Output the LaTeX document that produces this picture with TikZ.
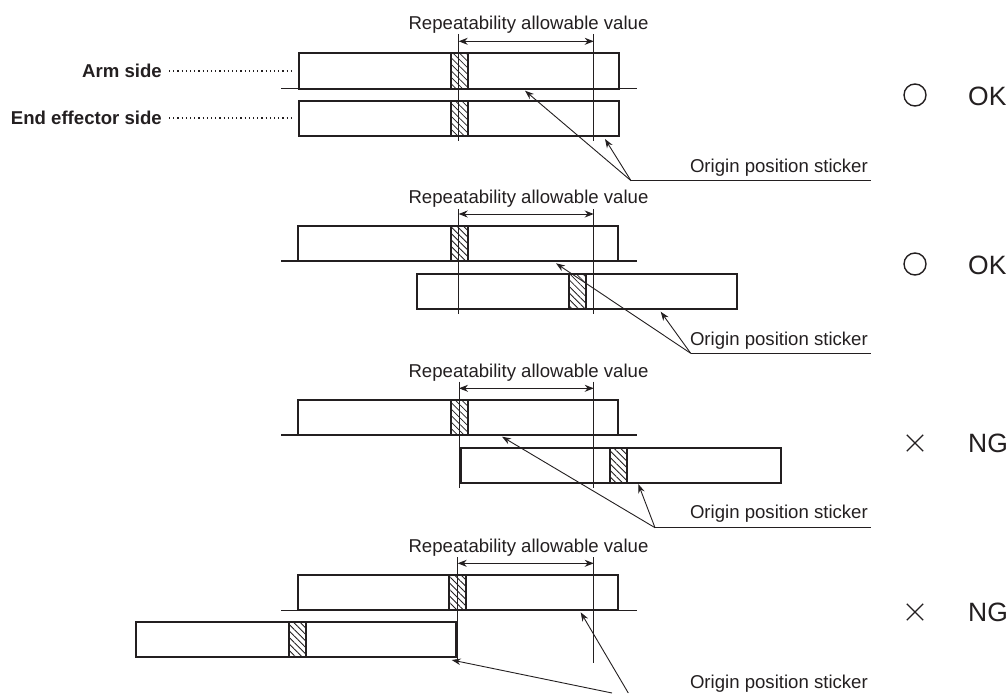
\documentclass[tikz,border=0pt]{standalone}
\usepackage{fontspec}
\setmainfont{Liberation Sans}
\usetikzlibrary{patterns.meta,arrows.meta}
\definecolor{ink}{HTML}{231F20}
\tikzset{
  bar/.style={draw=ink,line width=2pt,fill=white,anchor=north west,inner sep=0pt,outer sep=0pt,minimum height=35pt,minimum width=320pt},
  sticker/.style={draw=ink,line width=2pt,anchor=north west,inner sep=0pt,outer sep=0pt,minimum height=35pt,minimum width=17pt,
    pattern={Lines[angle=-45,distance=4.6pt,line width=0.8pt]},pattern color=ink},
  base/.style={draw=ink,line width=1.2pt},
  thin line/.style={draw=ink,line width=1pt},
  dim/.style={draw=ink,line width=0.9pt,{Stealth[length=9pt,width=7pt]}-{Stealth[length=9pt,width=7pt]}},
  lead/.style={draw=ink,line width=0.9pt,-{Stealth[length=9pt,width=6.5pt]}},
  lbl/.style={text=ink,font=\fontsize{18.6pt}{20pt}\selectfont,anchor=base,inner sep=0pt,yshift=-0.8pt},
  boldlbl/.style={text=ink,font=\fontsize{18.6pt}{20pt}\selectfont\bfseries,anchor=base east,inner sep=0pt,yshift=-0.8pt},
  verdict/.style={text=ink,font=\fontsize{26.5pt}{28pt}\selectfont,anchor=base west,inner sep=0pt},
  mark circle/.style={draw=ink,line width=1.4pt,circle,minimum size=22pt,inner sep=0pt},
  dots/.style={draw=ink,line width=1.1pt,dash pattern=on 1.2pt off 3pt},
}
\begin{document}
\begin{tikzpicture}[x=1pt,y=-1pt]
\useasboundingbox (0,0) rectangle (1008,693);
\begin{scope}
\clip (0,0) rectangle (1008,693);
% Panel 1
\coordinate (al1) at (281,88.5); \coordinate (al2) at (636.5,88.5);
\draw[base] (al1) -- (al2);
\node[bar] (a1) at (298.5,53.5) {};
\node[bar] (a2) at (298.5,100.5) {};
\node[sticker] (as1) at (450.5,53.5) {};
\node[sticker] (as2) at (450.5,100.5) {};
\coordinate (av1) at (458.7,34); \coordinate (av2) at (458.7,141);
\coordinate (av3) at (593.7,34); \coordinate (av4) at (593.7,141);
\draw[thin line] (av1) -- (av2); \draw[thin line] (av3) -- (av4);
\coordinate (ad1) at (458.7,41.3); \coordinate (ad2) at (593.7,41.3);
\draw[dim] (ad1) -- (ad2);
\node[lbl] (at) at (528.5,29) {Repeatability allowable value};
\node[lbl,anchor=base east] (as) at (868,172) {Origin position sticker};
\coordinate (aj) at (631,180.7); \coordinate (ae) at (871,180.7);
\draw[thin line] (aj) -- (ae);
\coordinate (at1) at (525,90.7); \coordinate (at2) at (605,139);
\draw[lead] (aj) -- (at1); \draw[lead] (aj) -- (at2);
\node[boldlbl] (arm) at (162,76.7) {Arm side};
\node[boldlbl] (eff) at (162,123.3) {End effector side};
\coordinate (d1) at (169,71); \coordinate (d2) at (291,71);
\coordinate (d3) at (169,118); \coordinate (d4) at (291,118);
\draw[dots] (d1) -- (d2); \draw[dots] (d3) -- (d4);
\node[mark circle] (c1) at (915,95) {};
\node[verdict] (ok1) at (968,105.7) {OK};
% Panel 2
\coordinate (bl1) at (281,261); \coordinate (bl2) at (636.5,261);
\draw[base] (bl1) -- (bl2);
\node[bar] (b1) at (297.5,226) {};
\node[bar] (b2) at (417,273.5) {};
\node[sticker] (bs1) at (450.7,226) {};
\node[sticker] (bs2) at (568.8,273.5) {};
\coordinate (bv1) at (458.7,209); \coordinate (bv2) at (458.7,314);
\coordinate (bv3) at (593.7,209); \coordinate (bv4) at (593.7,314);
\draw[thin line] (bv1) -- (bv2); \draw[thin line] (bv3) -- (bv4);
\coordinate (bd1) at (458.7,214); \coordinate (bd2) at (593.7,214);
\draw[dim] (bd1) -- (bd2);
\node[lbl] (bt) at (528.5,202.7) {Repeatability allowable value};
\node[lbl,anchor=base east] (bs) at (868,344.3) {Origin position sticker};
\coordinate (bj) at (690.7,353.3); \coordinate (be) at (871,353.3);
\draw[thin line] (bj) -- (be);
\coordinate (bt1) at (556,263.3); \coordinate (bt2) at (660.7,311.7);
\draw[lead] (bj) -- (bt1); \draw[lead] (bj) -- (bt2);
\node[mark circle] (c2) at (915,264) {};
\node[verdict] (ok2) at (968,274.7) {OK};
% Panel 3
\coordinate (cl1) at (281,435); \coordinate (cl2) at (636.5,435);
\draw[base] (cl1) -- (cl2);
\node[bar] (c1b) at (297.5,400.3) {};
\node[bar] (c2b) at (460.7,447.5) {};
\node[sticker] (cs1) at (450.7,400.3) {};
\node[sticker] (cs2) at (609.7,447.5) {};
\coordinate (cv1) at (459,381.7); \coordinate (cv2) at (459,487.7);
\coordinate (cv3) at (593.7,381.7); \coordinate (cv4) at (593.7,487.7);
\draw[thin line] (cv1) -- (cv2); \draw[thin line] (cv3) -- (cv4);
\coordinate (cd1) at (459,388.3); \coordinate (cd2) at (593.7,388.3);
\draw[dim] (cd1) -- (cd2);
\node[lbl] (ct) at (528.5,376.7) {Repeatability allowable value};
\node[lbl,anchor=base east] (cs) at (868,517.7) {Origin position sticker};
\coordinate (cj) at (655,527.7); \coordinate (ce) at (871,527.7);
\draw[thin line] (cj) -- (ce);
\coordinate (ct1) at (502,436.7); \coordinate (ct2) at (638.3,484);
\draw[lead] (cj) -- (ct1); \draw[lead] (cj) -- (ct2);
\node[draw=none,minimum size=16pt,inner sep=0pt] (x1) at (915,443) {};
\draw[base] (x1.north west) -- (x1.south east);
\draw[base] (x1.north east) -- (x1.south west);
\node[verdict] (ng1) at (968,452.3) {NG};
% Panel 4
\coordinate (dl1) at (281,610.5); \coordinate (dl2) at (636.5,610.5);
\draw[base] (dl1) -- (dl2);
\node[bar] (d1b) at (297.5,575.3) {};
\node[bar] (d2b) at (135.7,622.3) {};
\node[sticker] (ds1) at (449.3,575.3) {};
\node[sticker] (ds2) at (289,622.3) {};
\coordinate (dv1) at (457.7,557.3); \coordinate (dv2) at (457.7,663.3);
\coordinate (dv3) at (593.7,557.3); \coordinate (dv4) at (593.7,663.3);
\draw[thin line] (dv1) -- (dv2); \draw[thin line] (dv3) -- (dv4);
\coordinate (dd1) at (457.7,563.3); \coordinate (dd2) at (593.7,563.3);
\draw[dim] (dd1) -- (dd2);
\node[lbl] (dt) at (528.5,551.7) {Repeatability allowable value};
\node[lbl,anchor=base east] (ds) at (868,687.7) {Origin position sticker};
\coordinate (dj1) at (612,693); \coordinate (dj2) at (628.3,693);
\coordinate (dt1) at (451.7,660); \coordinate (dt2) at (580.7,612.3);
\draw[lead] (dj1) -- (dt1); \draw[lead] (dj2) -- (dt2);
\node[draw=none,minimum size=16pt,inner sep=0pt] (x2) at (915,612) {};
\draw[base] (x2.north west) -- (x2.south east);
\draw[base] (x2.north east) -- (x2.south west);
\node[verdict] (ng2) at (968,621) {NG};
\end{scope}
\end{tikzpicture}
\end{document}
